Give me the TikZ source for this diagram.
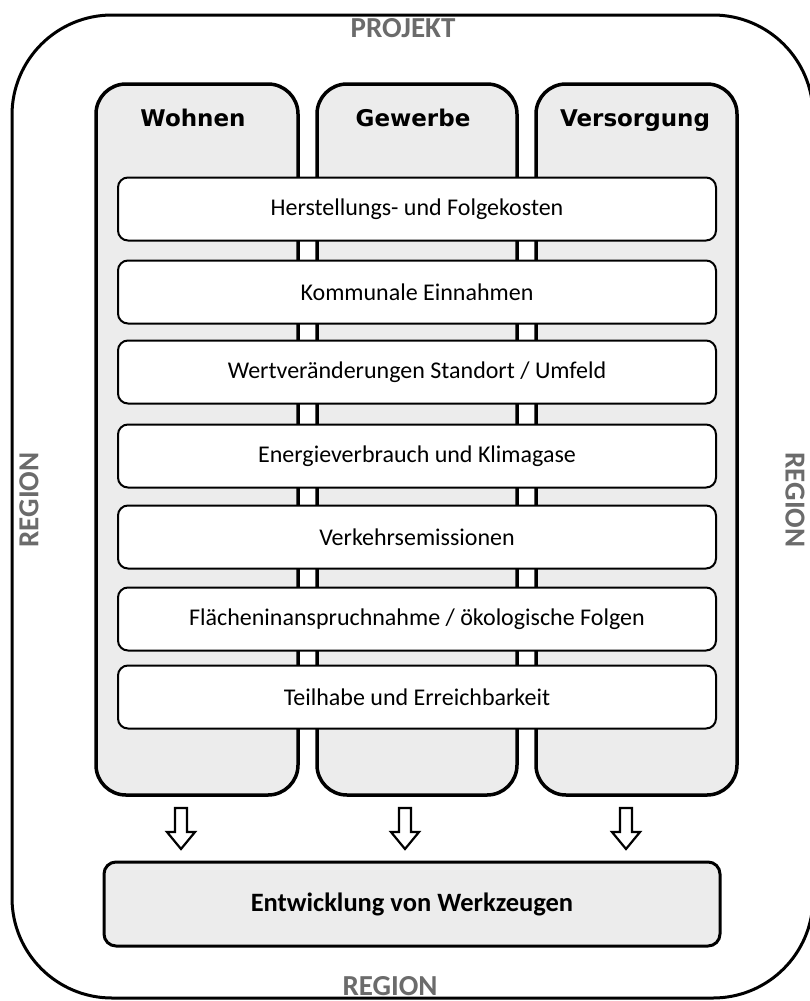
\documentclass[tikz,border=0pt]{standalone}
\usepackage{fontspec}
\setmainfont{Carlito}
\newfontfamily\hdfont{DejaVu Sans}
\definecolor{colfill}{gray}{0.925}
\definecolor{lblgray}{gray}{0.42}
\begin{document}
\begin{tikzpicture}[x=1pt,y=-1pt,
  outerbox/.style={draw=black,line width=3pt,rounded corners=100pt},
  colbox/.style={draw=black,line width=3.5pt,fill=colfill,rounded corners=30pt},
  rowbox/.style={draw=black,line width=2pt,fill=white,rounded corners=10pt,minimum width=598pt,minimum height=63pt,font=\fontsize{24}{28}\selectfont},
  hdr/.style={anchor=base,font=\hdfont\bfseries\fontsize{23}{26}\selectfont},
  lbl/.style={text=lblgray,font=\bfseries\fontsize{29}{32}\selectfont},
  downarrow/.style={draw=black,line width=2.2pt,fill=white,line join=miter},
  toolbox/.style={draw=black,line width=3pt,fill=colfill,rounded corners=12pt,minimum width=616pt,minimum height=84pt,font=\bfseries\fontsize{26.5}{30}\selectfont}]
\useasboundingbox (0,0) rectangle (809,1001);
\fill[white] (0,0) rectangle (809,1001);
\draw[outerbox] (12,15) rectangle (813,998);
\node[lbl] (projekt) at (403,28) {PROJEKT};
\node[lbl,rotate=90] (regl) at (29,500) {REGION};
\node[lbl,rotate=-90] (regr) at (795,500) {REGION};
\node[lbl] (regb) at (390,986) {REGION};
% columns
\draw[colbox] (96,84) rectangle (298,795);
\draw[colbox] (317,84) rectangle (517,795);
\draw[colbox] (536,84) rectangle (737,795);
\node[hdr] (wohnen) at (193,126) {Wohnen};
\node[hdr] (gewerbe) at (413,126) {Gewerbe};
\node[hdr] (versorgung) at (635,126) {Versorgung};
% rows
\node[rowbox] (r1) at (417,209) {Herstellungs- und Folgekosten};
\node[rowbox] (r2) at (417,292) {Kommunale Einnahmen};
\node[rowbox] (r3) at (417,372) {Wertveränderungen Standort / Umfeld};
\node[rowbox] (r4) at (417,456) {Energieverbrauch und Klimagase};
\node[rowbox] (r5) at (417,537) {Verkehrsemissionen};
\node[rowbox] (r6) at (417,619) {Flächeninanspruchnahme / ökologische Folgen};
\node[rowbox] (r7) at (417,697) {Teilhabe und Erreichbarkeit};
% bottom
\node[toolbox] (tools) at (412,904) {Entwicklung von Werkzeugen};
\foreach \ax in {181,405,626}{
  \draw[downarrow] (\ax-6,808) -- (\ax+6,808) -- (\ax+6,832) -- (\ax+14,832)
    -- (\ax,849) -- (\ax-14,832) -- (\ax-6,832) -- cycle;
}
\end{tikzpicture}
\end{document}
